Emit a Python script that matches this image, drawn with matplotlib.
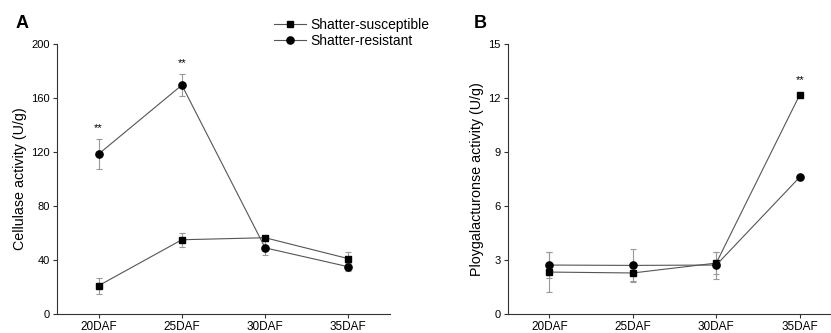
#recreate the cellulase / polygalacturonase activity line charts (panels A and B)

import matplotlib
matplotlib.use('Agg')
import matplotlib.pyplot as plt
from matplotlib.lines import Line2D

plt.rcParams['font.family'] = ['Liberation Sans', 'DejaVu Sans']

#stages on the x axis
stages = ['20DAF', '25DAF', '30DAF', '35DAF']

#panel A - cellulase activity (U/g)
cel_susceptible = [21, 55, 56.5, 41]
cel_susceptible_err = [6, 5, 0, 5]
cel_resistant = [118.5, 169.5, 49, 35]
cel_resistant_err = [11, 8, 5, 3]
cel_stars = [(0, 138), (1, 186)]

#panel B - polygalacturonase activity (U/g)
pg_susceptible = [2.33, 2.28, 2.83, 12.17]
pg_susceptible_err = [1.1, 0.45, 0.6, 0]
pg_resistant = [2.72, 2.7, 2.72, 7.6]
pg_resistant_err = [0.7, 0.9, 0.75, 0]
pg_stars = [(3, 13)]

fig = plt.figure(figsize=(8.31, 3.33), dpi=100)
axA = fig.add_axes([0.0686, 0.057, 0.4007, 0.811])
axB = fig.add_axes([0.611, 0.057, 0.4015, 0.811])

x = list(range(len(stages)))


def draw_panel(ax, sus, sus_err, res, res_err, stars, ymax, step, ylabel):
    ax.errorbar(x, sus, yerr=sus_err, color='#555555', lw=0.8, marker='s', ms=4.5,
                mfc='black', mec='black', ecolor='#999999', elinewidth=0.8,
                capsize=2.5, capthick=0.8)
    ax.errorbar(x, res, yerr=res_err, color='#555555', lw=0.8, marker='o', ms=5.2,
                mfc='black', mec='black', ecolor='#999999', elinewidth=0.8,
                capsize=2.5, capthick=0.8)
    for sx, sy in stars:
        ax.text(sx, sy, '**', ha='center', va='center', fontsize=8)
    ax.set_xlim(-0.5, 3.5)
    ax.set_ylim(0, ymax)
    ax.set_yticks([i * step for i in range(6)])
    ax.set_xticks(x)
    ax.set_xticklabels(stages, fontsize=8.5)
    ax.set_ylabel(ylabel, fontsize=10.3, labelpad=3)
    ax.spines['top'].set_visible(False)
    ax.spines['right'].set_visible(False)
    for s in ['left', 'bottom']:
        ax.spines[s].set_linewidth(0.8)
        ax.spines[s].set_color('#333333')
    ax.tick_params(axis='y', labelsize=8)
    ax.tick_params(length=3, width=0.8, pad=2, color='#333333')


draw_panel(axA, cel_susceptible, cel_susceptible_err, cel_resistant,
           cel_resistant_err, cel_stars, 200, 40, 'Cellulase activity (U/g)')
draw_panel(axB, pg_susceptible, pg_susceptible_err, pg_resistant, pg_resistant_err,
           pg_stars, 15, 3, 'Ploygalacturonse activity (U/g)')

#panel letters
fig.text(22 / 831, 1 - 24 / 333, 'A', fontsize=13, fontweight='bold', ha='center', va='center')
fig.text(480 / 831, 1 - 24 / 333, 'B', fontsize=13, fontweight='bold', ha='center', va='center')

#legend at top centre
h1 = Line2D([], [], color='#555555', lw=0.8, marker='s', ms=4.5, mfc='black', mec='black')
h2 = Line2D([], [], color='#555555', lw=0.8, marker='o', ms=5.2, mfc='black', mec='black')
fig.legend([h1, h2], ['Shatter-susceptible', 'Shatter-resistant'], loc='upper left',
           bbox_to_anchor=(267 / 831, 1 - 11 / 333), frameon=False, fontsize=10,
           handlelength=2.3, handletextpad=0.3, labelspacing=0.15, borderpad=0)

fig.savefig('out.png', dpi=100)
